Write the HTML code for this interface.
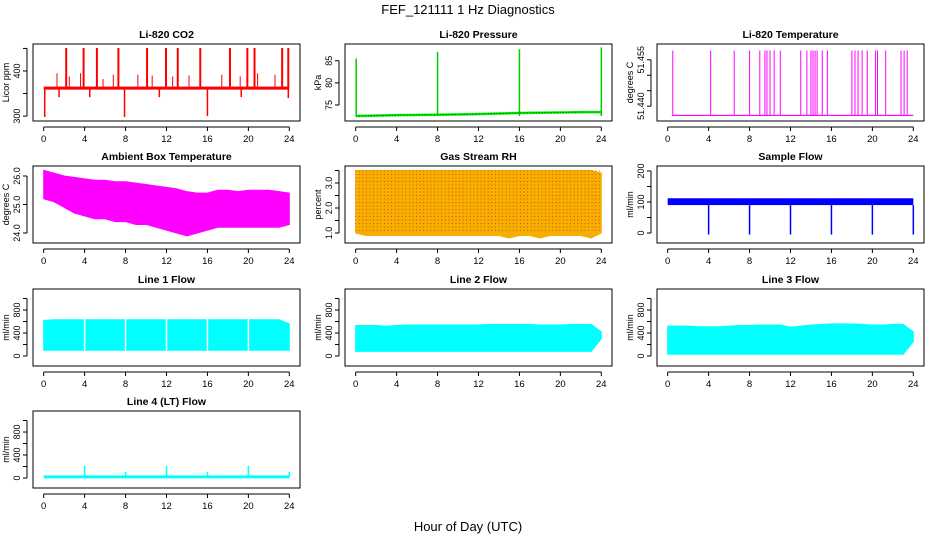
<!DOCTYPE html>
<html><head><meta charset="utf-8">
<style>
html,body{margin:0;padding:0;background:#fff;}
svg{display:block;font-family:"Liberation Sans",Arial,sans-serif;}
.t{font-size:10.5px;font-weight:bold;text-anchor:middle;}
.tk{font-size:9.5px;text-anchor:middle;}
.yl{font-size:9px;text-anchor:middle;}
</style></head>
<body>
<svg id="c" width="936" height="540" viewBox="0 0 936 540">
<text x="468" y="14" style="font-size:13px;text-anchor:middle">FEF_121111  1 Hz Diagnostics</text>
<text x="468" y="531" style="font-size:13px;text-anchor:middle">Hour of Day (UTC)</text>
</svg>
<script>
// ---- data ----
const hourTicks = [0,4,8,12,16,20,24];
const bandHours = [0,1,2,3,4,5,6,7,8,9,10,11,12,13,14,15,16,17,18,19,20,21,22,23,24];
const co2Base = 362;
const co2SpikeHours = [2.2,3.9,5.2,7.3,10.1,11.95,13.1,15.3,18.2,19.9,20.6,23.3,23.9];
const co2SpikeVals = [451,451,451,451,451,451,451,451,451,451,451,451,451];
const co2SmallHours = [1.3,2.5,3.6,5.8,6.8,9.2,10.6,12.6,14.2,17.4,19.2,20.9,22.6];
const co2SmallVals = [395,388,395,382,392,392,390,388,390,392,388,395,392];
const co2DipHours = [0.1,7.9,16.0,23.9,1.5,4.5,11.3,19.3];
const co2DipVals = [298,298,300,340,342,342,342,342];
const presHours = [0,4,8,11.2,16,22.5,24];
const presVals = [72.5,72.7,72.8,72.9,73.2,73.4,73.4];
const presSpikeHours = [0.05,8,16,24];
const presSpikeVals = [85.5,87,87.6,88];
const tempBase = 51.437;
const tempSpikeHours = [0.5,4.2,6.5,8,9,9.5,9.7,10,10.4,11,13,13.6,14,14.2,14.4,14.6,15.1,15.6,18,18.3,18.6,19,19.5,20.3,20.5,21.3,22.8,23.1,23.4];
const ambMin = [25.2,25.1,24.9,24.7,24.6,24.5,24.5,24.4,24.4,24.3,24.3,24.2,24.1,24.0,23.9,24.0,24.1,24.2,24.2,24.2,24.2,24.2,24.2,24.2,24.3];
const ambMax = [26.2,26.1,26.0,25.95,25.9,25.85,25.85,25.8,25.8,25.75,25.7,25.65,25.6,25.55,25.45,25.4,25.4,25.5,25.5,25.45,25.5,25.5,25.5,25.45,25.4];
const rhMin = [1.0,0.9,0.9,0.9,0.9,0.9,0.9,0.9,0.9,0.9,0.9,0.9,0.9,0.9,0.9,0.8,0.9,0.9,0.8,0.9,0.9,0.9,0.9,0.8,1.0];
const rhMax = [3.5,3.5,3.5,3.5,3.5,3.5,3.5,3.5,3.5,3.5,3.5,3.5,3.5,3.5,3.5,3.5,3.5,3.5,3.5,3.5,3.5,3.5,3.5,3.5,3.4];
const sfMin = 90, sfMax = 112;
const sfDipHours = [4,8,12,16,20,24];
const sfDipVals = [-5,-5,-5,-5,-5,-5];
const l1Min = [100,100,100,100,100,100,100,100,100,100,100,100,100,100,100,100,100,100,100,100,100,100,100,100,100];
const l1Max = [620,630,630,630,630,630,630,630,630,630,630,630,630,630,630,630,630,630,630,630,630,630,630,630,560];
const l1GapHours = [4,8,12,16,20];
const l2Min = [80,80,80,80,80,80,80,80,80,80,80,80,80,80,80,80,80,80,80,80,80,80,80,80,300];
const l2Max = [530,530,530,520,530,540,540,540,540,540,540,540,540,550,550,550,550,550,540,540,540,550,550,550,420];
const l3Min = [30,30,30,30,30,30,30,30,30,30,30,30,30,30,30,30,30,30,30,30,30,30,30,30,250];
const l3Max = [520,520,520,510,510,510,520,530,530,540,540,540,500,520,540,550,560,560,560,550,540,540,550,550,420];
const l4Base = 20;
const l4SpikeHours = [4,8,12,16,20,24];
const l4SpikeVals = [210,110,210,110,210,110];

// ---- layout ----
const NS="http://www.w3.org/2000/svg";
const svg=document.getElementById('c');
function el(tag,attrs,parent){const e=document.createElementNS(NS,tag);for(const k in attrs)e.setAttribute(k,attrs[k]);(parent||svg).appendChild(e);return e;}
const colX=[[33,300],[345,612],[657,924]];
const rowY=[[44,121],[166,243],[289,366],[411,488]];

function panel(name,col,row,title,ylab,ydom,yticks,ylabels){
  const [x0,x1]=colX[col],[y0,y1]=rowY[row];
  const g=el('g',{});
  
  
  const xs=h=>x0+(x1-x0)*(0.04+0.92*h/24);
  const ys=v=>y1-(y1-y0)*(0.04+0.92*(v-ydom[0])/(ydom[1]-ydom[0]));
  const t=el('text',{x:(x0+x1)/2,y:y0-6,class:'t'},g);t.textContent=title;
  
  const box=el('rect',{x:x0,y:y0,width:x1-x0,height:y1-y0,fill:'none',stroke:'#000','stroke-width':1},g);
  
  const ax=el('g',{},g);
  el('line',{x1:xs(0),x2:xs(24),y1:y1+6,y2:y1+6,stroke:'#000'},ax);
  hourTicks.forEach(h=>{el('line',{x1:xs(h),x2:xs(h),y1:y1+6,y2:y1+10,stroke:'#000'},ax);
    const tx=el('text',{x:xs(h),y:y1+21,class:'tk'},ax);tx.textContent=h;});
  const ay=el('g',{},g);
  el('line',{x1:x0-6,x2:x0-6,y1:ys(yticks[0]),y2:ys(yticks[yticks.length-1]),stroke:'#000'},ay);
  yticks.forEach((v,i)=>{el('line',{x1:x0-10,x2:x0-6,y1:ys(v),y2:ys(v),stroke:'#000'},ay);
    if(ylabels[i]!==''){const tx=el('text',{x:x0-13,y:ys(v),class:'yl',transform:`rotate(-90 ${x0-13} ${ys(v)})`},ay);tx.textContent=ylabels[i];}});
  const yt=el('text',{x:x0-24,y:(y0+y1)/2,class:'yl',transform:`rotate(-90 ${x0-24} ${(y0+y1)/2})`},ay);yt.textContent=ylab;
  
  const data=el('g',{},g);
  return {xs,ys,g:data};
}
function band(p,mins,maxs,color){
  let pts=bandHours.map((h,i)=>p.xs(h)+','+p.ys(maxs[i]));
  pts=pts.concat(bandHours.slice().reverse().map((h,j)=>{const i=bandHours.length-1-j;return p.xs(h)+','+p.ys(mins[i]);}));
  const e=el('polygon',{points:pts.join(' '),fill:color,stroke:color,'stroke-width':1},p.g);
  
}
function vlines(p,hours,vals,base,color,w){
  hours.forEach((h,i)=>{const e=el('line',{x1:p.xs(h),x2:p.xs(h),y1:p.ys(base),y2:p.ys(vals[i]),stroke:color,'stroke-width':w||1.5},p.g);
    });
}
function hline(p,h0,h1,v,color,w){const e=el('line',{x1:p.xs(h0),x2:p.xs(h1),y1:p.ys(v),y2:p.ys(v),stroke:color,'stroke-width':w},p.g);
  }

// CO2
let p=panel('co2',0,0,'Li-820 CO2','Licor ppm',[296,453],[300,350,400,450],['300','','400','']);
hline(p,0,24,co2Base,'#f00',3);
vlines(p,co2SpikeHours,co2SpikeVals,co2Base,'#f00',2);
vlines(p,co2SmallHours,co2SmallVals,co2Base,'#f00',1);
vlines(p,co2DipHours,co2DipVals,co2Base,'#f00',1.5);
// Pressure
p=panel('pressure',1,0,'Li-820 Pressure','kPa',[72.08,88.08],[75,80,85],['75','80','85']);
{let pts=presHours.map((h,i)=>p.xs(h)+','+p.ys(presVals[i]));
 const e=el('polyline',{points:pts.join(' '),fill:'none',stroke:'#0e0','stroke-width':2.5},p.g);
 const e2=el('polyline',{points:pts.join(' '),fill:'none',stroke:'#000','stroke-width':0.7,'stroke-dasharray':'1 2'},p.g);}
vlines(p,presSpikeHours,presSpikeVals,72.5,'#0c0',1.5);
// Temperature
p=panel('li820-temp',2,0,'Li-820 Temperature','degrees C',[51.4362,51.4591],[51.440,51.445,51.450,51.455],['51.440','','','51.455']);
hline(p,0.4,24,tempBase,'#f0f',1.2);
vlines(p,tempSpikeHours,tempSpikeHours.map(()=>51.458),tempBase,'#f0f',1);
// Ambient
p=panel('ambient-temp',0,1,'Ambient Box Temperature','degrees C',[23.757,26.243],[24,25,26],['24.0','25.0','26.0']);
band(p,ambMin,ambMax,'#f0f');
// RH
p=panel('rh',1,1,'Gas Stream RH','percent',[0.723,3.557],[1,1.5,2,2.5,3,3.5],['1.0','','2.0','','3.0','']);
band(p,rhMin,rhMax,'#f4b000');
{const pat=el('g',{},p.g);
 for(let h=0;h<=24;h+=0.35){el('line',{x1:p.xs(h),x2:p.xs(h),y1:p.ys(3.5),y2:p.ys(1.0),stroke:'#f22','stroke-width':0.8,'stroke-dasharray':'1 2.5'},pat);}}
// Sample flow
p=panel('sample-flow',2,1,'Sample Flow','ml/min',[-22.3,206],[0,50,100,150,200],['0','','100','','200']);
{const r=el('rect',{x:p.xs(0),y:p.ys(sfMax),width:p.xs(24)-p.xs(0),height:p.ys(sfMin)-p.ys(sfMax),fill:'#00f'},p.g);}
vlines(p,sfDipHours,sfDipVals,sfMin,'#00f',1.5);
// Line flows
const flowTicks=[0,200,400,600,800,1000],flowLabels=['0','','400','','800',''];
const fd=[-120,1112];
p=panel('line1-flow',0,2,'Line 1 Flow','ml/min',fd,flowTicks,flowLabels);
band(p,l1Min,l1Max,'#0ff');
l1GapHours.forEach(h=>{const e=el('line',{x1:p.xs(h),x2:p.xs(h),y1:p.ys(650),y2:p.ys(100),stroke:'#fff','stroke-width':1.5},p.g);});
p=panel('line2-flow',1,2,'Line 2 Flow','ml/min',fd,flowTicks,flowLabels);
band(p,l2Min,l2Max,'#0ff');
p=panel('line3-flow',2,2,'Line 3 Flow','ml/min',fd,flowTicks,flowLabels);
band(p,l3Min,l3Max,'#0ff');
p=panel('line4-flow',0,3,'Line 4 (LT) Flow','ml/min',fd,flowTicks,flowLabels);
hline(p,0,24,l4Base,'#0ff',3);
vlines(p,l4SpikeHours,l4SpikeVals,l4Base,'#0ff',1.5);
</script>
</body></html>
